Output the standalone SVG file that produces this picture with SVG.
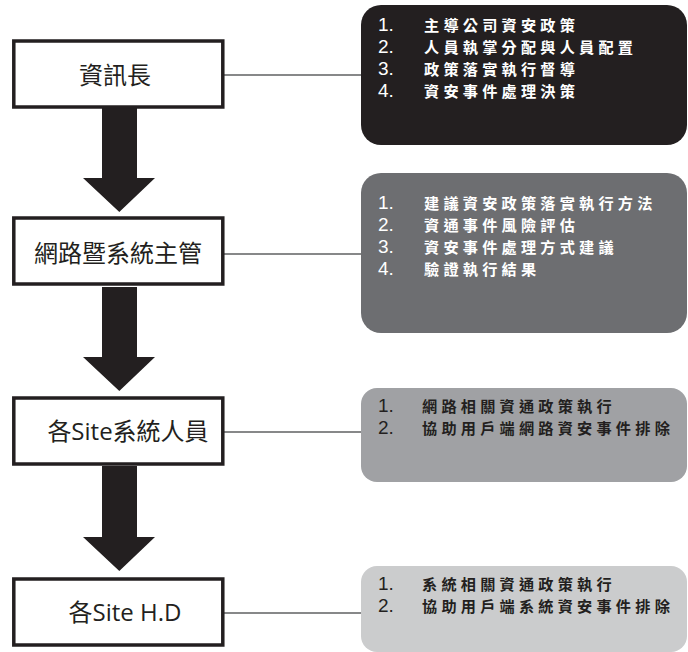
<svg xmlns="http://www.w3.org/2000/svg" width="688" height="652" viewBox="0 0 688 652">
<style>
.box{fill:#ffffff;stroke:#231f20;stroke-width:3.5}
.bt{font-family:"Open Sans","Noto Sans CJK TC",sans-serif;font-size:24px;fill:#231f20;text-anchor:middle}
.num{font-family:"Liberation Sans",Arial,sans-serif;font-size:19px}
.ct{font-family:"Noto Sans CJK TC","Noto Sans",sans-serif;font-size:15.2px;letter-spacing:4.2px;font-weight:bold}
.w{fill:#ffffff}
.d{fill:#231f20}
.arrow{fill:#231f20}
.link{stroke:#5f6062;stroke-width:1.3;fill:none}
</style>
<g id="connectors">
<line class="link" x1="224" y1="75" x2="362" y2="75"/>
<line class="link" x1="224" y1="254" x2="362" y2="254"/>
<line class="link" x1="224" y1="432" x2="362" y2="432"/>
<line class="link" x1="224" y1="613" x2="362" y2="613"/>
<polygon class="arrow" points="102,108 137,108 137,178 155,178 119.3,212 83,178 102,178"/>
<polygon class="arrow" points="102,287 137,287 137,357 155,357 119.3,391 83,357 102,357"/>
<polygon class="arrow" points="102,466 137,466 137,537 155,537 119.3,571 83,537 102,537"/>
</g>
<g id="node-cio">
<rect class="box" x="13.8" y="41" width="209" height="66"/>
<text class="bt" x="115" y="84">資訊長</text>
</g>
<g id="node-manager">
<rect class="box" x="13.8" y="218" width="209" height="66"/>
<text class="bt" x="118" y="262">網路暨系統主管</text>
</g>
<g id="node-site-staff">
<rect class="box" x="13.8" y="398" width="209" height="66"/>
<text class="bt" x="128" y="440">各Site系統人員</text>
</g>
<g id="node-site-hd">
<rect class="box" x="13.8" y="579" width="209" height="66"/>
<text class="bt" x="125" y="621">各Site H.D</text>
</g>
<g id="callout-cio">
<rect x="361" y="5" width="326" height="140" rx="20" fill="#231f20"/>
<text class="num w" x="378" y="31">1.</text>
<text class="num w" x="378" y="53">2.</text>
<text class="num w" x="378" y="75">3.</text>
<text class="num w" x="378" y="97">4.</text>
<text class="ct w" x="424" y="31">主導公司資安政策</text>
<text class="ct w" x="424" y="53">人員執掌分配與人員配置</text>
<text class="ct w" x="424" y="75">政策落實執行督導</text>
<text class="ct w" x="424" y="97">資安事件處理決策</text>
</g>
<g id="callout-manager">
<rect x="361" y="173" width="326" height="160" rx="20" fill="#6d6e71"/>
<text class="num w" x="378" y="209">1.</text>
<text class="num w" x="378" y="231">2.</text>
<text class="num w" x="378" y="253">3.</text>
<text class="num w" x="378" y="275">4.</text>
<text class="ct w" x="424" y="209">建議資安政策落實執行方法</text>
<text class="ct w" x="424" y="231">資通事件風險評估</text>
<text class="ct w" x="424" y="253">資安事件處理方式建議</text>
<text class="ct w" x="424" y="275">驗證執行結果</text>
</g>
<g id="callout-site-staff">
<rect x="361" y="388" width="326" height="94" rx="16" fill="#a0a1a4"/>
<text class="num d" x="378" y="412">1.</text>
<text class="num d" x="378" y="434">2.</text>
<text class="ct d" x="422" y="412">網路相關資通政策執行</text>
<text class="ct d" x="422" y="434">協助用戶端網路資安事件排除</text>
</g>
<g id="callout-site-hd">
<rect x="361" y="566" width="326" height="86" rx="16" fill="#cbcccd"/>
<text class="num d" x="378" y="590">1.</text>
<text class="num d" x="378" y="612">2.</text>
<text class="ct d" x="422" y="590">系統相關資通政策執行</text>
<text class="ct d" x="422" y="612">協助用戶端系統資安事件排除</text>
</g>
</svg>
